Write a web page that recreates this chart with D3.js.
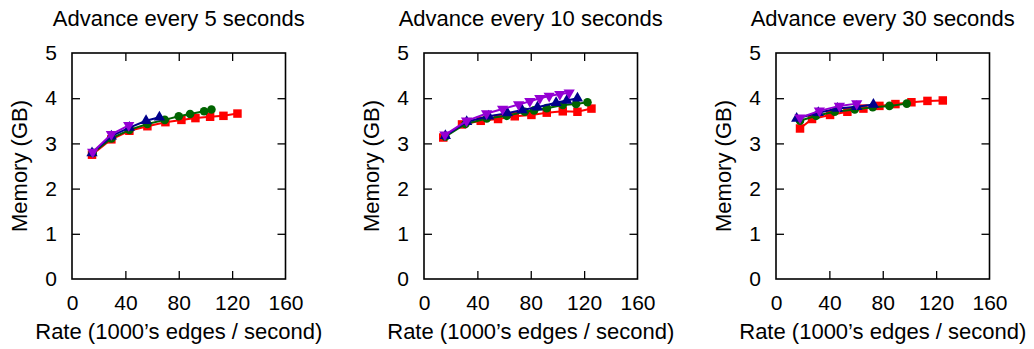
<!DOCTYPE html>
<html>
<head>
<meta charset="utf-8">
<script src="https://cdn.jsdelivr.net/npm/d3@7"></script>
<style>
  html, body { margin: 0; padding: 0; background: #fff; }
  svg { display: block; }
  text { font-family: "Liberation Sans", Arial, Helvetica, sans-serif; fill: #000; }
</style>
</head>
<body>
<svg id="chart" width="1034" height="349"></svg>
<script>
// ---- data ----
const panelTitles = ["Advance every 5 seconds", "Advance every 10 seconds", "Advance every 30 seconds"];
const xTickValues = [0, 40, 80, 120, 160];
const yTickValues = [0, 1, 2, 3, 4, 5];
const xLabel = "Rate (1000\u2019s edges / second)";
const yLabel = "Memory (GB)";
const seriesColors = ["#ff0000", "#006400", "#00008b", "#9400d3"];
const seriesShapes = ["square", "circle", "triangleUp", "triangleDown"];

// Advance every 5 seconds
const adv5Red    = [[15,2.75],[29.5,3.09],[43,3.28],[56.5,3.38],[70,3.47],[82,3.52],[92.5,3.56],[103.5,3.59],[113.5,3.61],[124,3.66]];
const adv5Green  = [[15.5,2.79],[29.5,3.11],[43,3.30],[56.5,3.43],[69.5,3.52],[80,3.60],[88.5,3.65],[99,3.71],[104.5,3.75]];
const adv5Blue   = [[15,2.79],[29.5,3.16],[43,3.35],[55.5,3.50],[65.5,3.58]];
const adv5Purple = [[15.5,2.81],[29.5,3.20],[42.5,3.40]];

// Advance every 10 seconds
const adv10Red    = [[14.4,3.13],[28.5,3.42],[42.5,3.50],[55.5,3.54],[68,3.60],[80.5,3.63],[92,3.68],[104,3.71],[115,3.70],[125.5,3.77]];
const adv10Green  = [[16,3.15],[31,3.43],[47,3.55],[62,3.61],[75.5,3.70],[82.5,3.73],[92,3.78],[104,3.85],[114,3.87],[122.5,3.91]];
const adv10Blue   = [[16,3.17],[32,3.48],[48.5,3.60],[62.5,3.67],[73.5,3.74],[85,3.80],[99,3.90],[107,3.95],[115,4.00]];
const adv10Purple = [[15.7,3.19],[31.9,3.50],[46.9,3.66],[58.9,3.76],[70.9,3.86],[79.3,3.93],[86.8,4.00],[93.8,4.05],[101.8,4.09],[108.8,4.12]];

// Advance every 30 seconds
const adv30Red    = [[18,3.33],[27,3.54],[40.5,3.63],[53.5,3.70],[65.5,3.77],[77.5,3.83],[89.5,3.87],[101.5,3.91],[113.5,3.94],[125,3.95]];
const adv30Green  = [[18,3.50],[30,3.61],[44,3.70],[59,3.75],[72.5,3.80],[85,3.83],[98,3.88]];
const adv30Blue   = [[15.5,3.55],[31.7,3.68],[46,3.77],[60.5,3.81],[73,3.86]];
const adv30Purple = [[18,3.57],[32.5,3.72],[47.5,3.83],[60.5,3.88]];

const panelSeries = [
  [adv5Red, adv5Green, adv5Blue, adv5Purple],
  [adv10Red, adv10Green, adv10Blue, adv10Purple],
  [adv30Red, adv30Green, adv30Blue, adv30Purple]
];

// ---- layout ----
const svg = d3.select("#chart");
const panelLefts = [72, 424, 776];
const plotW = 213.5, plotTop = 53, plotBottom = 279;
const tickLen = 8;

const symbolTypes = {
  square: d3.symbolSquare,
  circle: d3.symbolCircle,
  triangleUp: d3.symbolTriangle,
  triangleDown: d3.symbolTriangle
};
const symbolSizes = { square: 72, circle: 58, triangleUp: 55, triangleDown: 55 };

panelTitles.forEach((title, pi) => {
  const left = panelLefts[pi];
  const x = d3.scaleLinear().domain([0, 160]).range([left, left + plotW]);
  const y = d3.scaleLinear().domain([0, 5]).range([plotBottom, plotTop]);
  const g = svg.append("g");

  // title
  g.append("text")
    .attr("x", left + plotW / 2).attr("y", 26)
    .attr("text-anchor", "middle").attr("font-size", 22)
    .text(title);

  // axes (ticks inward, mirrored)
  const bottomAxis = d3.axisBottom(x).tickValues(xTickValues).tickFormat(d3.format("d")).tickSizeInner(-tickLen).tickSizeOuter(0).tickPadding(16);
  const topAxis = d3.axisTop(x).tickValues(xTickValues).tickSizeInner(-tickLen).tickSizeOuter(0).tickFormat("");
  const leftAxis = d3.axisLeft(y).tickValues(yTickValues).tickFormat(d3.format("d")).tickSizeInner(-tickLen).tickSizeOuter(0).tickPadding(15);
  const rightAxis = d3.axisRight(y).tickValues(yTickValues).tickSizeInner(-tickLen).tickSizeOuter(0).tickFormat("");

  const axB = g.append("g").attr("transform", `translate(0,${plotBottom})`).call(bottomAxis);
  const axT = g.append("g").attr("transform", `translate(0,${plotTop})`).call(topAxis);
  const axL = g.append("g").attr("transform", `translate(${left},0)`).call(leftAxis);
  const axR = g.append("g").attr("transform", `translate(${left + plotW},0)`).call(rightAxis);
  [axB, axT, axL, axR].forEach(a => {
    a.select(".domain").remove();
    a.selectAll(".tick line").attr("stroke", "#000").attr("stroke-width", 1.3);
    a.selectAll(".tick text").attr("font-size", 21).attr("font-family", "Liberation Sans, Arial, sans-serif").attr("fill", "#000");
  });
  // hide edge ticks that coincide with frame
  axB.selectAll(".tick").filter(d => d === 0 || d === 160).select("line").remove();
  axT.selectAll(".tick").filter(d => d === 0 || d === 160).select("line").remove();
  axL.selectAll(".tick").filter(d => d === 0 || d === 5).select("line").remove();
  axR.selectAll(".tick").filter(d => d === 0 || d === 5).select("line").remove();

  // frame
  g.append("rect")
    .attr("x", left).attr("y", plotTop)
    .attr("width", plotW).attr("height", plotBottom - plotTop)
    .attr("fill", "none").attr("stroke", "#000").attr("stroke-width", 1.6);

  // axis labels
  g.append("text")
    .attr("x", left + plotW / 2).attr("y", 339)
    .attr("text-anchor", "middle").attr("font-size", 22)
    .text(xLabel);
  g.append("text")
    .attr("transform", `translate(${left - 45},${(plotTop + plotBottom) / 2}) rotate(-90)`)
    .attr("text-anchor", "middle").attr("font-size", 22)
    .text(yLabel);

  // series
  const line = d3.line().x(d => x(d[0])).y(d => y(d[1]));
  panelSeries[pi].forEach((data, si) => {
    const color = seriesColors[si];
    const shape = seriesShapes[si];
    g.append("path").datum(data)
      .attr("d", line).attr("fill", "none")
      .attr("stroke", color).attr("stroke-width", 2);
    const sym = d3.symbol().type(symbolTypes[shape]).size(symbolSizes[shape]);
    g.selectAll(null).data(data).enter().append("path")
      .attr("d", sym)
      .attr("transform", d => `translate(${x(d[0])},${y(d[1])})` + (shape === "triangleDown" ? " rotate(180)" : ""))
      .attr("fill", color);
  });
});
</script>
</body>
</html>
